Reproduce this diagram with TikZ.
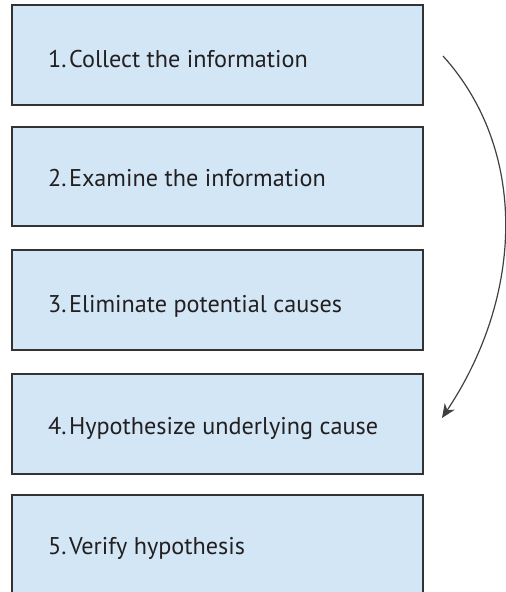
\documentclass[tikz,border=0pt]{standalone}
\usepackage{fontspec}
\setmainfont{PT Sans}
\usetikzlibrary{arrows.meta}
\definecolor{boxfill}{HTML}{D2E6F6}
\definecolor{boxline}{HTML}{333333}
\definecolor{ink}{HTML}{231F20}
\newcommand{\stepno}[1]{#1.\kern2.5pt}
\tikzset{
  stepbox/.style={draw=boxline, fill=boxfill, line width=1.3pt},
  steplabel/.style={anchor=base west, inner sep=0pt, font=\fontsize{24.2}{26}\selectfont, text=ink},
  flow/.style={draw=black!75, line width=1.2pt, -{Stealth[length=14pt,width=12pt]}}
}
\begin{document}
\begin{tikzpicture}[x=1pt,y=-1pt]
  \useasboundingbox (0,0) rectangle (506,592);
  \clip (0,0) rectangle (506,592);
  % step boxes
  \draw[stepbox] (12,5) rectangle (423,105) node[midway] (b1) {};
  \draw[stepbox] (12,127) rectangle (423,226) node[midway] (b2) {};
  \draw[stepbox] (12,250) rectangle (423,350) node[midway] (b3) {};
  \draw[stepbox] (12,374) rectangle (423,474) node[midway] (b4) {};
  \draw[stepbox] (12,495) rectangle (423,610) node[midway] (b5) {};
  % labels
  \node[steplabel] (t1) at (48,67.7) {\stepno{1}Collect the information};
  \node[steplabel] (t2) at (48,186.7) {\stepno{2}Examine the information};
  \node[steplabel] (t3) at (48,312.7) {\stepno{3}Eliminate potential causes};
  \node[steplabel] (t4) at (48,434) {\stepno{4}Hypothesize underlying cause};
  \node[steplabel] (t5) at (48,554) {\stepno{5}Verify hypothesis};
  % curved arrow from step 1 to step 4
  \coordinate (from) at (443,56);
  \coordinate (to) at (442,418);
  \draw[flow] (from) .. controls (528,150) and (524,295) .. (to);
\end{tikzpicture}
\end{document}
